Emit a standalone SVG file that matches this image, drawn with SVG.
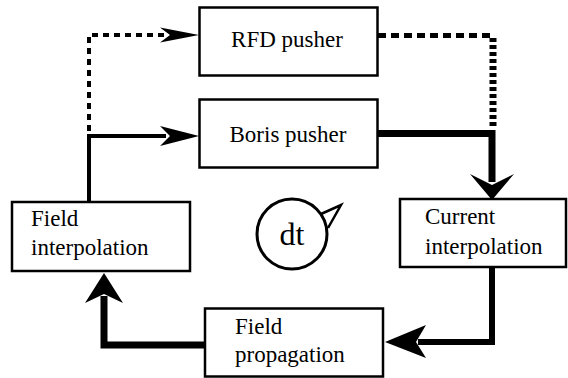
<svg xmlns="http://www.w3.org/2000/svg" width="568" height="378" viewBox="0 0 568 378">
<style>
.box{fill:#fff;stroke:#000;stroke-width:2.5}
.t{font-family:"Liberation Serif","Times New Roman",serif;font-size:23px;fill:#000}
.ln{fill:none;stroke:#000;stroke-linejoin:miter;stroke-linecap:butt}
.ah{fill:#000;stroke:none}
</style>
<rect width="568" height="378" fill="#fff"/>
<g id="connectors">
<path class="ln" d="M89,131 V35 H166" stroke-width="4" stroke-dasharray="6 5"/>
<path class="ln" d="M89,202 V136 H166" stroke-width="4"/>
<path class="ln" d="M378,35.5 H493" stroke-width="5" stroke-dasharray="8 5"/>
<path class="ln" d="M493,38 V128" stroke-width="7" stroke-dasharray="4 3"/>
<path class="ln" d="M378,133.5 H492 V182" stroke-width="7"/>
<path class="ln" d="M492,267 V342 H418" stroke-width="6"/>
<path class="ln" d="M205,345 H104 V296" stroke-width="7"/>
<polygon class="ah" points="199,35 160,27.5 170,35 160,42.5"/>
<polygon class="ah" points="199,136 160,126 170,136 160,146"/>
<polygon class="ah" points="492,200 470,174 492,185 514,174"/>
<polygon class="ah" points="385,342 426,325 416,342 426,358"/>
<polygon class="ah" points="104,273 85,303 104,294 123,303"/>
</g>
<g id="rfd">
<rect class="box" x="199.5" y="7.5" width="178" height="68"/>
<text class="t" x="287" y="47" text-anchor="middle">RFD pusher</text>
</g>
<g id="boris">
<rect class="box" x="199.5" y="99.5" width="178" height="68"/>
<text class="t" x="288" y="142" text-anchor="middle">Boris pusher</text>
</g>
<g id="field-interp">
<rect class="box" x="12" y="202" width="178" height="69"/>
<text class="t" x="31" y="226">Field</text>
<text class="t" x="31" y="255">interpolation</text>
</g>
<g id="current-interp">
<rect class="box" x="400" y="199" width="166" height="68"/>
<text class="t" x="425" y="224">Current</text>
<text class="t" x="425" y="254">interpolation</text>
</g>
<g id="field-prop">
<rect class="box" x="205" y="308.5" width="178" height="68"/>
<text class="t" x="235" y="334">Field</text>
<text class="t" x="235" y="362">propagation</text>
</g>
<g id="dt">
<circle cx="292" cy="234" r="35" fill="none" stroke="#000" stroke-width="3"/>
<polyline points="321,214 341,205 328,228" fill="none" stroke="#000" stroke-width="2.5" stroke-linejoin="miter"/>
<text x="292" y="245" text-anchor="middle" style="font-family:'Liberation Serif','Times New Roman',serif;font-size:32px">dt</text>
</g>
</svg>
